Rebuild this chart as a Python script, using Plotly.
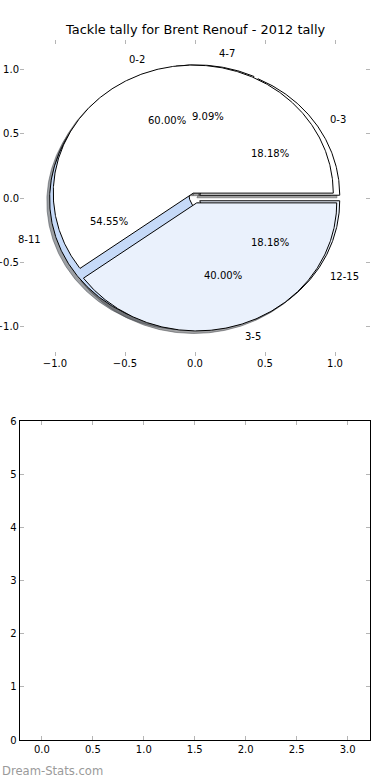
import math
import plotly.graph_objects as go

# ---------------- data ----------------
title_text = "Tackle tally for Brent Renouf - 2012 tally"
outer_labels = ["0-3", "4-7", "8-11", "12-15"]
outer_counts = [2, 1, 6, 2]
outer_colors = ["#FFFFFF", "#FFFFFF", "#C6DAF8", "#EAF1FC"]
inner_labels = ["0-2", "3-5"]
inner_counts = [3, 2]
inner_colors = ["#FFFFFF", "#EAF1FC"]
pie_xticks = [-1.0, -0.5, 0.0, 0.5, 1.0]
pie_yticks = [-1.0, -0.5, 0.0, 0.5, 1.0]
bottom_xticks = [0.0, 0.5, 1.0, 1.5, 2.0, 2.5, 3.0]
bottom_yticks = [0, 1, 2, 3, 4, 5, 6]
watermark = "Dream-Stats.com"

# ---------------- style ----------------
EXPLODE = 0.04
SHADOW = 0.02
LABEL_DIST = 1.1
PCT_DIST = 0.6
FONT = "DejaVu Sans"
W, H = 390, 780
TICKC = "#b5b5b5"


def wedge_geom(counts):
    total = float(sum(counts))
    out = []
    acc = 0.0
    for c in counts:
        frac = c / total
        t1 = 360.0 * acc
        t2 = 360.0 * (acc + frac)
        mid = math.radians((t1 + t2) / 2.0)
        cx = EXPLODE * math.cos(mid)
        cy = EXPLODE * math.sin(mid)
        out.append(dict(t1=t1, t2=t2, mid=mid, cx=cx, cy=cy, frac=frac))
        acc += frac
    return out


def wedge_path(g, dx=0.0, dy=0.0):
    n = max(2, int(abs(g["t2"] - g["t1"]) * 2))
    xs = [g["cx"] + dx]
    ys = [g["cy"] + dy]
    for i in range(n + 1):
        a = math.radians(g["t1"] + (g["t2"] - g["t1"]) * i / n)
        xs.append(g["cx"] + dx + math.cos(a))
        ys.append(g["cy"] + dy + math.sin(a))
    xs.append(g["cx"] + dx)
    ys.append(g["cy"] + dy)
    return xs, ys


def shadow_color(hexc):
    r = int(hexc[1:3], 16) * 0.3
    g = int(hexc[3:5], 16) * 0.3
    b = int(hexc[5:7], 16) * 0.3
    return "rgba(%d,%d,%d,0.5)" % (r, g, b)


fig = go.Figure()

pies = [
    (outer_labels, outer_counts, outer_colors),
    (inner_labels, inner_counts, inner_colors),
]
geoms = [wedge_geom(c) for _, c, _ in pies]

# shadows (below all wedges)
for (labels, counts, colors), geo in zip(pies, geoms):
    for g, col in zip(geo, colors):
        xs, ys = wedge_path(g, -SHADOW, -SHADOW)
        sc = shadow_color(col)
        fig.add_trace(go.Scatter(x=xs, y=ys, mode="lines", fill="toself",
                                 fillcolor=sc, line=dict(color=sc, width=1),
                                 hoverinfo="skip", xaxis="x", yaxis="y"))

annotations = []
for (labels, counts, colors), geo in zip(pies, geoms):
    for g, col, lab in zip(geo, colors, labels):
        xs, ys = wedge_path(g)
        fig.add_trace(go.Scatter(x=xs, y=ys, mode="lines", fill="toself",
                                 fillcolor=col, line=dict(color="black", width=1),
                                 hoverinfo="skip", xaxis="x", yaxis="y"))
        xt = g["cx"] + LABEL_DIST * math.cos(g["mid"])
        yt = g["cy"] + LABEL_DIST * math.sin(g["mid"])
        annotations.append(dict(x=xt, y=yt, xref="x", yref="y", text=lab,
                                showarrow=False, xanchor="left" if xt > 0 else "right",
                                yanchor="middle", borderpad=0,
                                font=dict(family=FONT, size=10, color="black")))
        xp = g["cx"] + PCT_DIST * math.cos(g["mid"])
        yp = g["cy"] + PCT_DIST * math.sin(g["mid"])
        annotations.append(dict(x=xp, y=yp, xref="x", yref="y",
                                text="%1.2f%%" % (g["frac"] * 100),
                                showarrow=False, xanchor="center", yanchor="middle",
                                borderpad=0,
                                font=dict(family=FONT, size=10, color="black")))

# empty second axes
fig.add_trace(go.Scatter(x=[], y=[], mode="markers", xaxis="x2", yaxis="y2",
                         hoverinfo="skip"))

annotations.append(dict(x=0.5, y=1 - 29.5 / H, xref="paper", yref="paper",
                        text=title_text, showarrow=False, xanchor="center",
                        yanchor="middle", font=dict(family=FONT, size=12.9, color="black")))
annotations.append(dict(x=0.0, y=1 - 771 / H, xref="paper", yref="paper",
                        text=watermark, showarrow=False, xanchor="left",
                        yanchor="middle", font=dict(family=FONT, size=11.6, color="#9a9a9a")))

tickfont = dict(family=FONT, size=10, color="black")
common = dict(ticks="inside", ticklen=4, tickcolor=TICKC, tickwidth=1,
              mirror="ticks", showgrid=False, zeroline=False, tickfont=tickfont,
              automargin=False, fixedrange=True)


def fmt(v):
    return ("\u2212%.1f" % -v) if v < 0 else "%.1f" % v


fig.update_layout(
    width=W, height=H, autosize=False,
    margin=dict(l=0, r=0, t=0, b=0, pad=0),
    paper_bgcolor="white", plot_bgcolor="white",
    showlegend=False,
    annotations=annotations,
    xaxis=dict(domain=[20 / W, 370 / W], range=[-1.25, 1.25], tickvals=pie_xticks,
               ticktext=[fmt(v) for v in pie_xticks], showline=False, anchor="y", **common),
    yaxis=dict(domain=[1 - 356 / H, 1 - 40 / H], range=[-1.234, 1.234], tickvals=pie_yticks,
               ticktext=[fmt(v) for v in pie_yticks], showline=False, anchor="x", **common),
    xaxis2=dict(domain=[19.5 / W, 370 / W], range=[-0.22, 3.22], tickvals=bottom_xticks,
                ticktext=["%.1f" % v for v in bottom_xticks],
                showline=True, linecolor="black", linewidth=1, anchor="y2", **common),
    yaxis2=dict(domain=[1 - 740 / H, 1 - 421 / H], range=[0, 6], tickvals=bottom_yticks,
                ticktext=["%d" % v for v in bottom_yticks],
                showline=True, linecolor="black", linewidth=1, anchor="x2", **common),
)

fig.write_html("out.html", config={"displayModeBar": False},
               post_script="document.body.style.margin='0';document.body.style.overflow='hidden';")
